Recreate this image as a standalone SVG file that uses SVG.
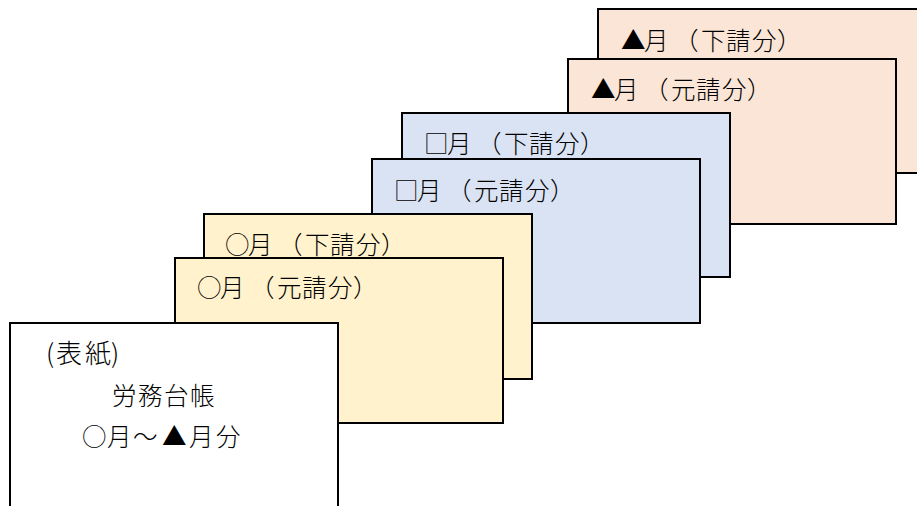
<svg xmlns="http://www.w3.org/2000/svg" width="917" height="506" viewBox="0 0 917 506">
<style>
rect{stroke:#000;stroke-width:2}
.p{fill:#FBE5D6}.b{fill:#DAE3F3}.y{fill:#FFF2CC}.w{fill:#FFFFFF}
text{font-family:"Noto Sans CJK JP","Liberation Serif",sans-serif;font-size:24.5px;font-weight:300;fill:#000}
</style>
<rect width="917" height="506" fill="#fff" style="stroke:none"/>
<g id="peach-sub"><rect class="p" x="598" y="9" width="330" height="164"/><text x="621 644 674 701 726 752 777" y="50">▲月（下請分）</text></g>
<g id="peach-main"><rect class="p" x="568" y="59" width="328" height="165"/><text x="591 614 644 671 696 722 747" y="99">▲月（元請分）</text></g>
<g id="blue-sub"><rect class="b" x="402" y="113" width="328" height="164"/><text x="424 447 477 504 529 555 580" y="153">□月（下請分）</text></g>
<g id="blue-main"><rect class="b" x="372" y="159" width="328" height="164"/><text x="394 417 447 474 499 525 550" y="200">□月（元請分）</text></g>
<g id="yellow-sub"><rect class="y" x="204" y="214" width="328" height="165"/><text x="225 248 278 305 330 356 381" y="254">○月（下請分）</text></g>
<g id="yellow-main"><rect class="y" x="175" y="258" width="328" height="165"/><text x="197 220 250 277 302 328 353" y="297">○月（元請分）</text></g>
<g id="cover"><rect class="w" x="10" y="323" width="328" height="200"/>
<text x="46 56 85 111" y="363" style="font-size:26px">(表紙)</text>
<text x="112 138 164 190" y="405">労務台帳</text>
<text x="82 107 133 162 189 216" y="446">○月～▲月分</text></g>
<g id="connectors"/>
</svg>
